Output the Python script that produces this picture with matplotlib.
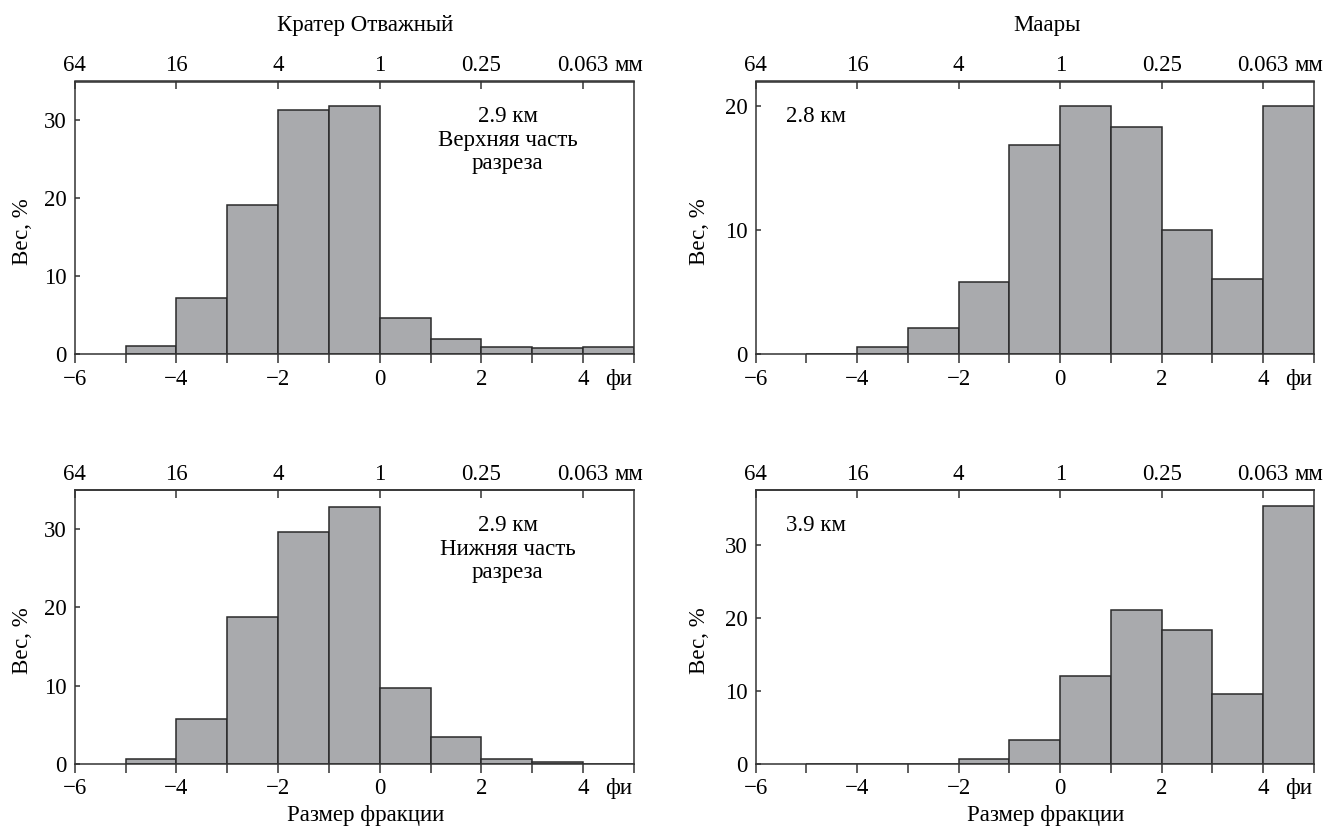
import numpy as np
import matplotlib.pyplot as plt

plt.rcParams['font.family'] = ['Liberation Serif', 'DejaVu Serif']
plt.rcParams['axes.unicode_minus'] = True

# phi bins (left edges, width 1)
bin_left = [-5, -4, -3, -2, -1, 0, 1, 2, 3, 4]

# weight percent per bin
crater_upper = [1.1, 7.2, 19.1, 31.4, 31.8, 4.6, 1.9, 0.9, 0.8, 1.0]
crater_lower = [0.6, 5.7, 18.8, 29.7, 32.9, 9.7, 3.4, 0.6, 0.2, 0.0]
maar_28 = [0.0, 0.6, 2.1, 5.8, 16.9, 20.0, 18.3, 10.0, 6.1, 20.0]
maar_39 = [0.0, 0.0, 0.0, 0.6, 3.3, 12.0, 21.1, 18.3, 9.6, 35.3]

bottom_ticks = [-6, -5, -4, -3, -2, -1, 0, 1, 2, 3, 4, 5]
bottom_labels = ['\u22126', '', '\u22124', '', '\u22122', '', '0', '', '2', '', '4', '']
top_ticks = [-6, -4, -2, 0, 2, 4]
top_labels = ['64', '16', '4', '1', '0.25', '0.063']

BAR_COLOR = '#a9aaad'
EDGE = '#2a2a2a'
FS = 16.5

W, H = 1328, 827
fig = plt.figure(figsize=(W / 100, H / 100), dpi=100)

col_x = [74.7 / W, 755.7 / W]
col_w = [559.3 / W, 558.3 / W]
row_y = [(H - 354.3) / H, (H - 763.7) / H]
row_h = [272.8 / H, 273.4 / H]

panels = [
    (0, 0, crater_upper, 35, '2.9 км\nВерхняя часть\nразреза', 'center'),
    (0, 1, maar_28, 22, '2.8 км', 'left'),
    (1, 0, crater_lower, 35, '2.9 км\nНижняя часть\nразреза', 'center'),
    (1, 1, maar_39, 37.5, '3.9 км', 'left'),
]

for r, c, vals, ymax, note, ha in panels:
    ax = fig.add_axes([col_x[c], row_y[r], col_w[c], row_h[r]])
    ax.bar(bin_left, vals, width=1, align='edge', color=BAR_COLOR,
           edgecolor=EDGE, linewidth=1.1, zorder=2)
    ax.set_xlim(-6, 5)
    ax.set_ylim(0, ymax)
    for s in ax.spines.values():
        s.set_color('#333333')
        s.set_linewidth(1.1)

    ax.set_xticks(bottom_ticks)
    ax.set_xticklabels(bottom_labels)
    ax.set_xticks([4.7], minor=True)
    ax.set_xticklabels(['фи'], minor=True)
    ax.tick_params(axis='x', which='major', direction='out', length=6.5,
                   width=1.1, color='#333333', pad=4, labelsize=FS)
    ax.tick_params(axis='x', which='minor', length=0, pad=10.5, labelsize=FS)

    yt = [0, 10, 20, 30] if ymax > 25 else [0, 10, 20]
    ax.set_yticks(yt)
    ax.tick_params(axis='y', direction='in', length=3.5, width=1.1,
                   color='#333333', pad=6, labelsize=FS)
    ax.set_ylabel('Вес, %', fontsize=FS)
    ax.yaxis.set_label_coords(-0.094 if c == 0 else -0.1, 0.45)
    ax.yaxis.label.set_verticalalignment('center')

    # grain size in mm along the top
    top = ax.secondary_xaxis('top')
    top.set_xticks(top_ticks)
    top.set_xticklabels(top_labels)
    top.set_xticks([4.9], minor=True)
    top.set_xticklabels(['мм'], minor=True)
    top.tick_params(axis='x', which='major', direction='in', length=5.5,
                    width=1.1, color='#333333', pad=4, labelsize=FS)
    top.tick_params(axis='x', which='minor', length=0, pad=4, labelsize=FS)
    top.spines['top'].set_color('#333333')
    top.spines['top'].set_linewidth(1.1)

    if ha == 'center':
        ax.text(0.774, 0.785, note, transform=ax.transAxes, ha='center',
                va='center', fontsize=FS, linespacing=1.15)
    else:
        ax.text(0.055, 0.87, note, transform=ax.transAxes, ha='left',
                va='center', fontsize=FS)

    if r == 1:
        ax.set_xlabel('Размер фракции', fontsize=FS)
        ax.xaxis.set_label_coords(0.52, -0.19)
        ax.xaxis.label.set_verticalalignment('center')

fig.text(365.5 / W, 1 - 25 / H, 'Кратер Отважный', ha='center', va='center', fontsize=FS)
fig.text(1046.5 / W, 1 - 25 / H, 'Маары', ha='center', va='center', fontsize=FS)

fig.savefig('out.png', dpi=100)
